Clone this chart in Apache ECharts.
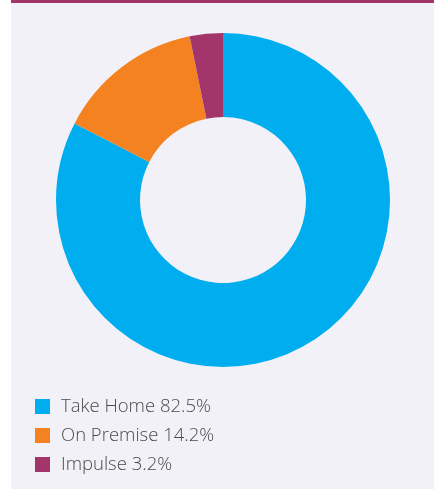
<!DOCTYPE html>
<html>
<head>
<meta charset="utf-8">
<script src="https://cdn.jsdelivr.net/npm/echarts@6/dist/echarts.min.js"></script>
<style>
  html, body { margin: 0; padding: 0; background: #ffffff; }
  #chart { width: 434px; height: 489px; }
</style>
</head>
<body>
<div id="chart"></div>
<script>
// Channel share donut
const channels = ["Take Home", "On Premise", "Impulse"];
const shares = [82.5, 14.2, 3.2];
const colors = ["#00aeef", "#f58220", "#a2366b"];

const chart = echarts.init(document.getElementById("chart"), null, { renderer: "canvas" });

const option = {
  backgroundColor: "#ffffff",
  animation: false,
  graphic: [
    { type: "rect", left: 11, top: 0, shape: { width: 423, height: 489 }, style: { fill: "#f2f1f7" }, z: -10 },
    { type: "rect", left: 11, top: 0, shape: { width: 423, height: 3 }, style: { fill: "#a2366b" }, z: -9 },
  ],
  legend: {
    orient: "vertical",
    left: 30,
    top: 392,
    icon: "rect",
    itemWidth: 15,
    itemHeight: 15,
    itemGap: 10,
    data: channels,
    formatter: (name) => name + " " + shares[channels.indexOf(name)].toFixed(1) + "%",
    textStyle: { color: "#4a4a4a", fontSize: 18.5, lineHeight: 15, fontFamily: "Open Sans", fontWeight: 300, padding: [0, 0, 0, 6] },
  },
  series: [
    {
      type: "pie",
      center: [223, 200],
      radius: [83, 167],
      startAngle: 90,
      clockwise: true,
      label: { show: false },
      labelLine: { show: false },
      data: channels.map((name, i) => ({ name, value: shares[i], itemStyle: { color: colors[i] } })),
    },
  ],
};

chart.setOption(option);
</script>
</body>
</html>
